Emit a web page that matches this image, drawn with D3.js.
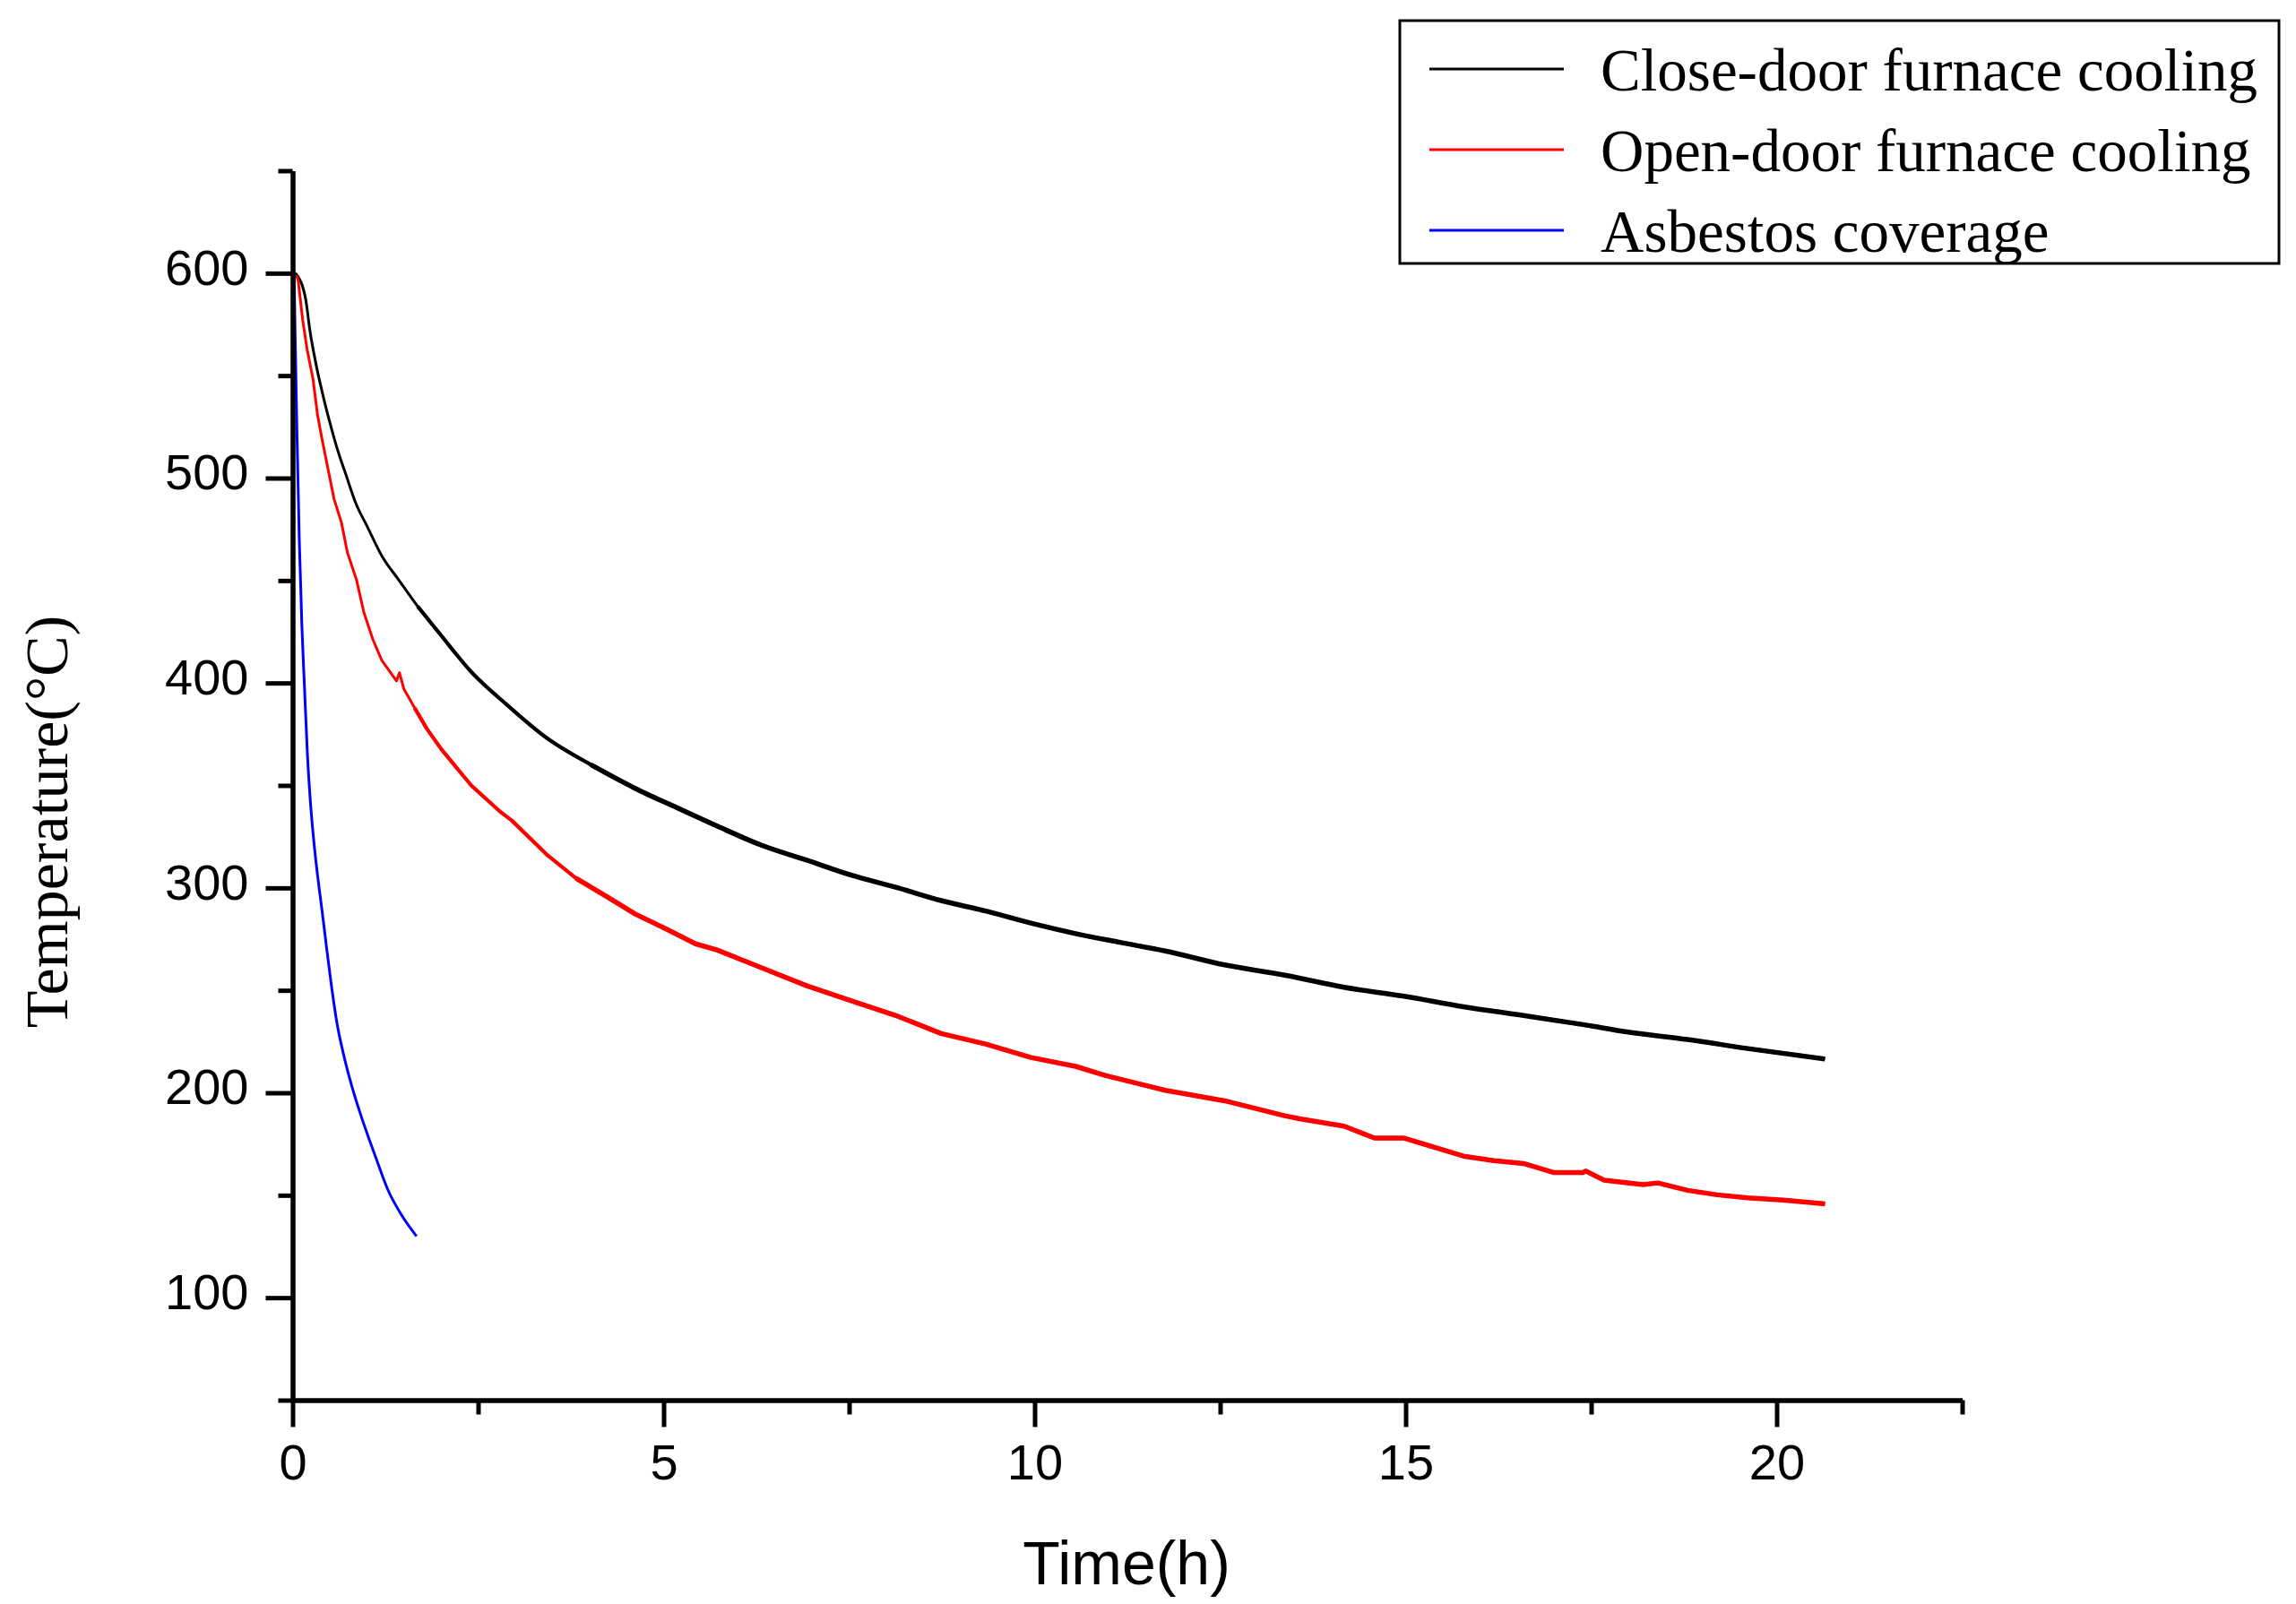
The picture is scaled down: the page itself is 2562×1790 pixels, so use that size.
<!DOCTYPE html>
<html>
<head>
<meta charset="utf-8">
<script src="https://cdn.jsdelivr.net/npm/d3@7"></script>
<style>
  html, body { margin: 0; padding: 0; background: #fff; }
  svg { display: block; }
</style>
</head>
<body>
<script>
// ---------- data ----------
const seriesNames = ["Close-door furnace cooling", "Open-door furnace cooling", "Asbestos coverage"];
const seriesColors = ["#000000", "#ff0000", "#0000ff"];

const closeTime = [0.04,0.08,0.13,0.175,0.235,0.316,0.396,0.497,0.598,0.719,0.86,1.0,1.2,1.44,1.685,2.01,2.41,2.89,3.42,4.02,4.62,5.23,5.72,6.32,6.93,7.53,8.13,8.74,9.34,9.95,10.55,11.15,11.76,12.56,13.37,14.17,14.98,15.78,16.59,17.39,18.0,18.8,19.61,20.65];
const closeTemp = [600,598,594,587.6,571.6,555.5,542.4,527.8,514.7,501.6,487,476.8,462.2,449.8,437.4,422.8,405.3,389.3,373.3,360.1,348.5,338.3,330.2,320.8,313.5,306.2,300.3,293.8,288.7,282.8,277.7,273.4,269.2,262.4,257.4,251.5,247.1,242,237.7,233.3,229.6,226,221.6,216.5];

const openTime = [0.05,0.075,0.135,0.195,0.275,0.336,0.396,0.477,0.558,0.658,0.739,0.86,0.96,1.08,1.2,1.40,1.44,1.50,1.645,1.81,2.01,2.41,2.81,2.95,3.05,3.42,3.82,4.22,4.62,5.03,5.43,5.72,6.32,6.93,7.53,8.13,8.74,9.34,9.95,10.55,10.95,11.76,12.56,13.37,13.57,14.17,14.58,14.98,15.78,16.19,16.59,16.99,17.39,17.43,17.67,18.2,18.4,18.8,19.2,19.61,20.09,20.65];
const openTemp = [599,596.4,577.4,562.8,548.3,530.8,519.1,504.5,489.9,478.3,463.6,450.5,434.5,421.4,411.2,401,405,397,387.8,377.6,367.4,349.9,336.8,333,329.5,316.4,304.7,296,287.2,280,272.7,269.7,261,252.2,244.9,237.7,228.9,223.8,217.2,212.9,208.5,201.2,196.1,188.8,187.3,183.7,177.9,177.9,169.1,166.9,165.5,161.1,161.1,161.8,157.4,155.2,156,152.4,150.2,148.7,147.6,145.8];

const asbTime = [0.02,0.034,0.06,0.09,0.125,0.16,0.2,0.24,0.28,0.336,0.377,0.417,0.457,0.517,0.598,0.698,0.80,0.92,1.04,1.12,1.28,1.465,1.67];
const asbTemp = [601,570,520,470,428,398,365,342,325,306.2,294.5,283,271,254,234,217,203,189,176.5,168.5,153,140.5,130];

const xMajorTicks = [0, 5, 10, 15, 20];
const xMinorTicks = [2.5, 7.5, 12.5, 17.5, 22.5];
const yMajorTicks = [100, 200, 300, 400, 500, 600];
const yMinorTicks = [50, 150, 250, 350, 450, 550, 650];
const xTitle = "Time(h)";
const yTitle = "Temperature(\u00B0C)";

// ---------- layout ----------
const W = 2562, H = 1790;
const svg = d3.select("body").append("svg").attr("width", W).attr("height", H);

const x = d3.scaleLinear().domain([0, 22.5]).range([326.5, 2189.5]);
const y = d3.scaleLinear().domain([50, 650]).range([1562.5, 190.5]);

const sansFont = "'Liberation Sans', Arial, sans-serif";
const serifFont = "'Liberation Serif', 'Times New Roman', serif";

// ---------- series ----------
const series = [
  { t: closeTime, v: closeTemp, curve: d3.curveMonotoneX },
  { t: openTime, v: openTemp, curve: d3.curveLinear },
  { t: asbTime, v: asbTemp, curve: d3.curveMonotoneX }
];
// heavier strokes further along the dense, noisy traces
const weightSteps = [[0, 3], [1.6, 4.2], [3.5, 5.5]];

series.forEach((s, i) => {
  const pts = s.t.map((t, k) => [t, s.v[k]]);
  const line = d3.line().x(d => x(d[0])).y(d => y(d[1])).curve(s.curve);
  const steps = i < 2 ? weightSteps : [[0, 3]];
  steps.forEach(([from, w]) => {
    const sub = pts.filter(p => p[0] >= from);
    svg.append("path").datum(sub)
      .attr("fill", "none").attr("stroke", seriesColors[i])
      .attr("stroke-width", w).attr("stroke-linejoin", "round").attr("stroke-linecap", "butt")
      .attr("d", line);
  });
});

// ---------- axes ----------
const xAxis = svg.append("g").attr("transform", `translate(0,${y(50)})`)
  .call(d3.axisBottom(x).tickValues(xMajorTicks).tickSize(30).tickSizeOuter(0).tickPadding(19).tickFormat(d3.format("d")));
const xMinor = svg.append("g").attr("transform", `translate(0,${y(50)})`)
  .call(d3.axisBottom(x).tickValues(xMinorTicks).tickSize(16).tickSizeOuter(0).tickFormat(""));
const yAxis = svg.append("g").attr("transform", `translate(${x(0)},0)`)
  .call(d3.axisLeft(y).tickValues(yMajorTicks).tickSize(30).tickSizeOuter(0).tickPadding(19).tickFormat(d3.format("d")));
const yMinor = svg.append("g").attr("transform", `translate(${x(0)},0)`)
  .call(d3.axisLeft(y).tickValues(yMinorTicks).tickSize(16).tickSizeOuter(0).tickFormat(""));

[xAxis, xMinor, yAxis, yMinor].forEach(g => {
  g.selectAll(".domain").attr("stroke", "#000").attr("stroke-width", 5);
  g.selectAll(".tick line").attr("stroke", "#000").attr("stroke-width", 5);
  g.selectAll("text").attr("font-family", sansFont).attr("font-size", 56).attr("fill", "#000");
});
yAxis.selectAll("text").attr("dy", "0.22em");

// axis titles
svg.append("text").attr("x", 1257).attr("y", 1768)
  .attr("text-anchor", "middle").attr("font-family", sansFont).attr("font-size", 68)
  .text(xTitle);
svg.append("text").attr("transform", "translate(75,917) rotate(-90)")
  .attr("text-anchor", "middle").attr("font-family", serifFont).attr("font-size", 68)
  .text(yTitle);

// ---------- legend ----------
const legend = svg.append("g");
legend.append("rect").attr("x", 1562).attr("y", 23).attr("width", 981).attr("height", 271)
  .attr("fill", "#fff").attr("stroke", "#000").attr("stroke-width", 3);
const rowY = [77, 167, 257];
seriesNames.forEach((name, i) => {
  legend.append("line").attr("x1", 1595).attr("x2", 1745).attr("y1", rowY[i]).attr("y2", rowY[i])
    .attr("stroke", seriesColors[i]).attr("stroke-width", 3);
  legend.append("text").attr("x", 1786).attr("y", rowY[i] + 24)
    .attr("font-family", serifFont).attr("font-size", 67).attr("fill", "#000")
    .text(name);
});
</script>
</body>
</html>
